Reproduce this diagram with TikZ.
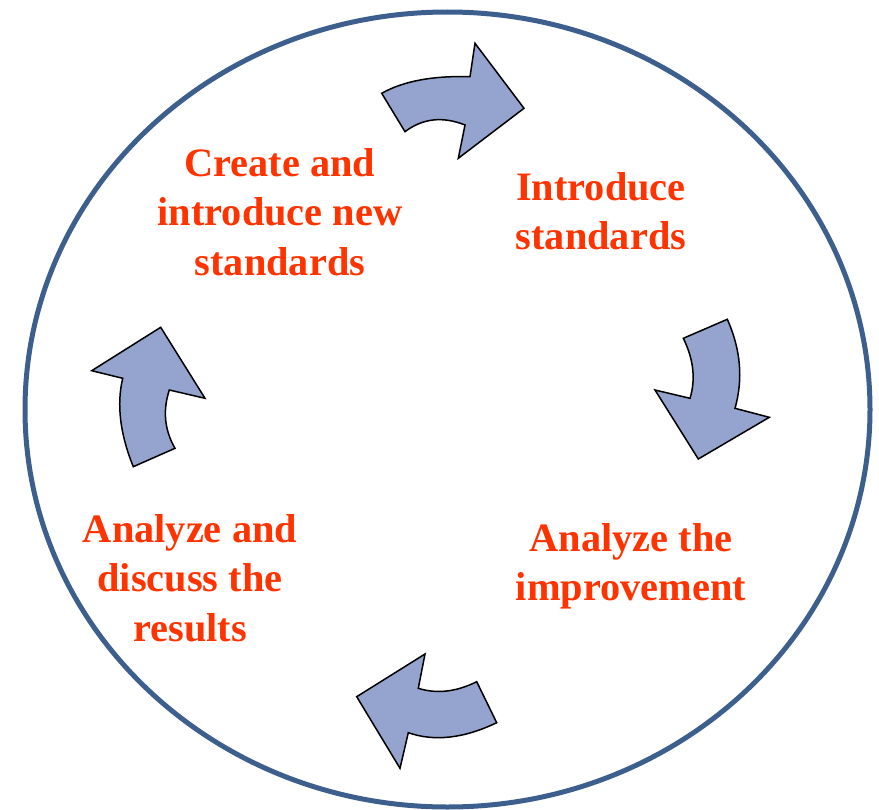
\documentclass[tikz,border=0pt]{standalone}
\usepackage{fontspec}
\setmainfont{Liberation Serif}
\usepackage{tikz}
\usetikzlibrary{positioning, calc}

\definecolor{ringblue}{RGB}{61,95,142}
\definecolor{arrowfill}{RGB}{149,164,206}
\definecolor{steptext}{RGB}{255,51,0}

\begin{document}
\begin{tikzpicture}[x=1bp, y=-1bp, every node/.style={align=center, inner sep=0pt, text=steptext, font=\fontsize{40.5}{49.5}\selectfont\bfseries}]

        % Styles
        \tikzstyle{ring}=[draw=ringblue, line width=5bp]
        \tikzstyle{bendarrow}=[draw=black, line width=1.5bp, fill=arrowfill, line join=miter]

        \useasboundingbox (0,0) rectangle (879,810);

        % Kreis
        \draw[ring] (447.5,409.5) ellipse [x radius=422.5, y radius=397.5];

        % Texte
        \node (create) at (280,212) {Create and\\introduce new\\standards};
        \node (introduce) at (601,211.5) {Introduce\\standards};
        \node (improve) at (631,566) {Analyze the\\improvement};
        \node (discuss) at (190,578) {Analyze and\\discuss the\\results};

        % Pfeile
        % oben
        \draw[bendarrow] (381.7,93.3) .. controls (403.3,81.1) and (432.8,75.6) .. (470,76.7)
          -- (475,43.3) -- (524,108.3) -- (458.3,158.3) -- (465,125)
          .. controls (442.7,116.1) and (422.7,118.3) .. (405,131.7) -- cycle;
        % rechts
        \draw[bendarrow] (683.3,338.3) -- (727.3,319.3)
          .. controls (740.7,349.2) and (743.3,378.9) .. (735,408.3)
          -- (769.3,417.3) -- (698.3,459) -- (655,390) -- (690,398.3)
          .. controls (695.8,379.2) and (693.6,359.2) .. cycle;
        % unten
        \draw[bendarrow] (476.7,681.7) -- (496.7,722.7)
          .. controls (463.9,738.4) and (434.4,741.8) .. (408.3,732.7)
          -- (400,768.3) -- (356.7,696.7) -- (425,654) -- (418.3,688.3)
          .. controls (436.7,694.1) and (456.2,691.9) .. cycle;
        % links
        \draw[bendarrow] (133.3,466.7) -- (175,448.3)
          .. controls (164.5,430) and (162.6,410.6) .. (169.3,390)
          -- (205,398.3) -- (160.7,327.3) -- (91.7,370.7) -- (122.7,378.3)
          .. controls (116.5,404.4) and (120,433.9) .. cycle;
\end{tikzpicture}
\end{document}
